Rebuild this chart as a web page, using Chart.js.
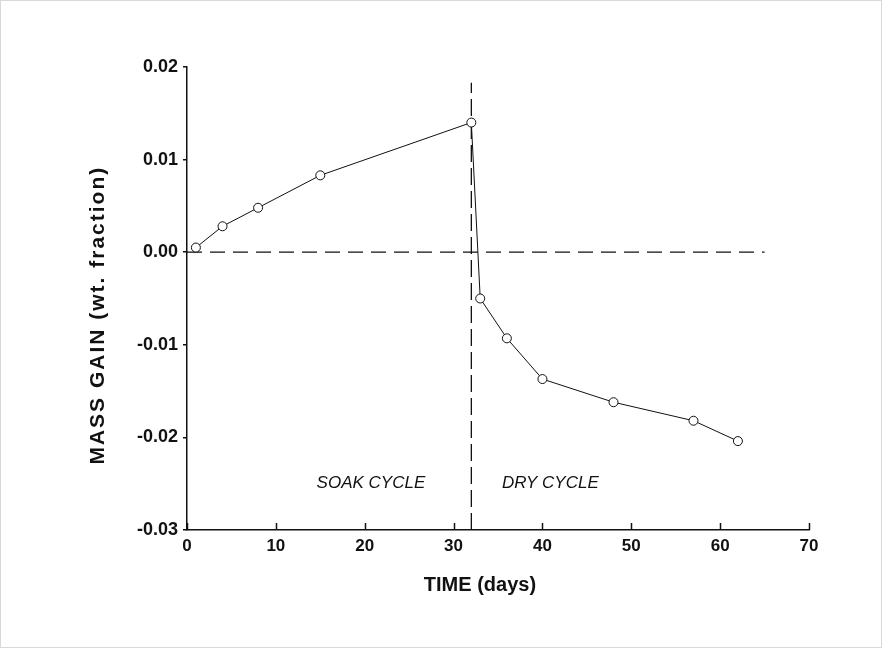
<!DOCTYPE html>
<html>
<head>
<meta charset="utf-8">
<script src="https://cdn.jsdelivr.net/npm/chart.js@4/dist/chart.umd.min.js"></script>
<style>
  html, body { margin: 0; padding: 0; background: #fff; }
  canvas { display: block; }
</style>
</head>
<body>
<canvas id="myChart" width="882" height="648"></canvas>
<script>
// measured values (days, weight fraction)
const days = [1, 4, 8, 15, 32, 33, 36, 40, 48, 57, 62];
const massGain = [0.0005, 0.0028, 0.0048, 0.0083, 0.0140, -0.0050, -0.0093, -0.0137, -0.0162, -0.0182, -0.0204];

// reference lines
const zeroLineX = [0, 65];
const zeroLineY = [0, 0];
const switchLineX = [32, 32];
const switchLineY = [-0.03, 0.0183];

// cycle labels [text, day, value]
const cycleLabels = [["SOAK CYCLE", 20.7, -0.025], ["DRY CYCLE", 40.9, -0.025]];

const xTitle = "TIME (days)";
const yTitle = "MASS GAIN (wt. fraction)";

const toPoints = (xs, ys) => xs.map((x, i) => ({ x: x, y: ys[i] }));

const FONT = "'Liberation Sans', Arial, sans-serif";

const framePlugin = {
  id: "frame",
  beforeDraw(chart) {
    const c = chart.ctx;
    c.save();
    c.fillStyle = "#fff";
    c.fillRect(0, 0, chart.width, chart.height);
    c.strokeStyle = "#d9d9d9";
    c.lineWidth = 1;
    c.strokeRect(0.5, 0.5, chart.width - 1, chart.height - 1);
    c.restore();
  },
  afterDraw(chart) {
    const c = chart.ctx;
    const xs = chart.scales.x;
    const ys = chart.scales.y;
    const area = chart.chartArea;
    c.save();
    // x ticks pointing up into the plot
    c.strokeStyle = "#111";
    c.lineWidth = 1.5;
    xs.ticks.forEach((t, i) => {
      const px = Math.round(xs.getPixelForTick(i)) + 0.5;
      c.beginPath();
      c.moveTo(px, ys.bottom);
      c.lineTo(px, ys.bottom - 7);
      c.stroke();
    });
    // cycle labels
    c.fillStyle = "#111";
    c.font = "italic 17px " + FONT;
    c.textAlign = "center";
    c.textBaseline = "middle";
    cycleLabels.forEach(([txt, x, y]) => {
      c.fillText(txt, xs.getPixelForValue(x), ys.getPixelForValue(y));
    });
    // axis titles
    c.font = "bold 20px " + FONT;
    c.fillText(xTitle, area.left + (area.right - area.left) * 0.471, area.bottom + 55);
    c.save();
    c.translate(area.left - 89, area.top + (area.bottom - area.top) * 0.536);
    c.rotate(-Math.PI / 2);
    c.font = "bold 21px " + FONT;
    c.letterSpacing = "2px";
    c.fillText(yTitle, 0, 0);
    c.restore();
    c.restore();
  }
};

const ctx = document.getElementById("myChart");
const chart = new Chart(ctx, {
  type: "scatter",
  data: {
    datasets: [
      {
        label: "mass gain",
        data: toPoints(days, massGain),
        showLine: true,
        borderColor: "#111",
        borderWidth: 1,
        pointRadius: 4.5,
        pointBackgroundColor: "#fff",
        pointBorderColor: "#111",
        pointBorderWidth: 1,
        clip: false
      },
      {
        label: "zero",
        data: toPoints(zeroLineX, zeroLineY),
        showLine: true,
        borderColor: "#111",
        borderWidth: 1.3,
        borderDash: [15, 8],
        pointRadius: 0,
        clip: false
      },
      {
        label: "switch",
        data: toPoints(switchLineX, switchLineY),
        showLine: true,
        borderColor: "#111",
        borderWidth: 1.3,
        borderDash: [17, 6],
        pointRadius: 0,
        clip: false
      }
    ]
  },
  options: {
    responsive: false,
    animation: false,
    devicePixelRatio: 1,
    layout: { padding: { left: 86, right: 73, top: 67, bottom: 51 } },
    plugins: {
      legend: { display: false },
      tooltip: { enabled: false }
    },
    scales: {
      x: {
        type: "linear",
        min: 0,
        max: 70,
        ticks: {
          stepSize: 10,
          color: "#111",
          padding: 6,
          maxRotation: 0,
          font: { family: FONT, size: 17, weight: "bold" }
        },
        grid: { drawOnChartArea: false, drawTicks: false, color: "#111" },
        border: { color: "#111", width: 1.5 },
        afterFit(s) { s.height = 67; }
      },
      y: {
        min: -0.03,
        max: 0.02,
        ticks: {
          stepSize: 0.01,
          color: "#111",
          padding: 5,
          font: { family: FONT, size: 18, weight: "bold" },
          callback: (v) => (Math.abs(v) < 1e-9 ? "0.00" : v.toFixed(2))
        },
        grid: { drawOnChartArea: false, tickLength: 4, color: "#111", lineWidth: 1.5 },
        border: { color: "#111", width: 1.5 },
        afterFit(s) { s.width = 101; }
      }
    }
  },
  plugins: [framePlugin]
});
</script>
</body>
</html>
